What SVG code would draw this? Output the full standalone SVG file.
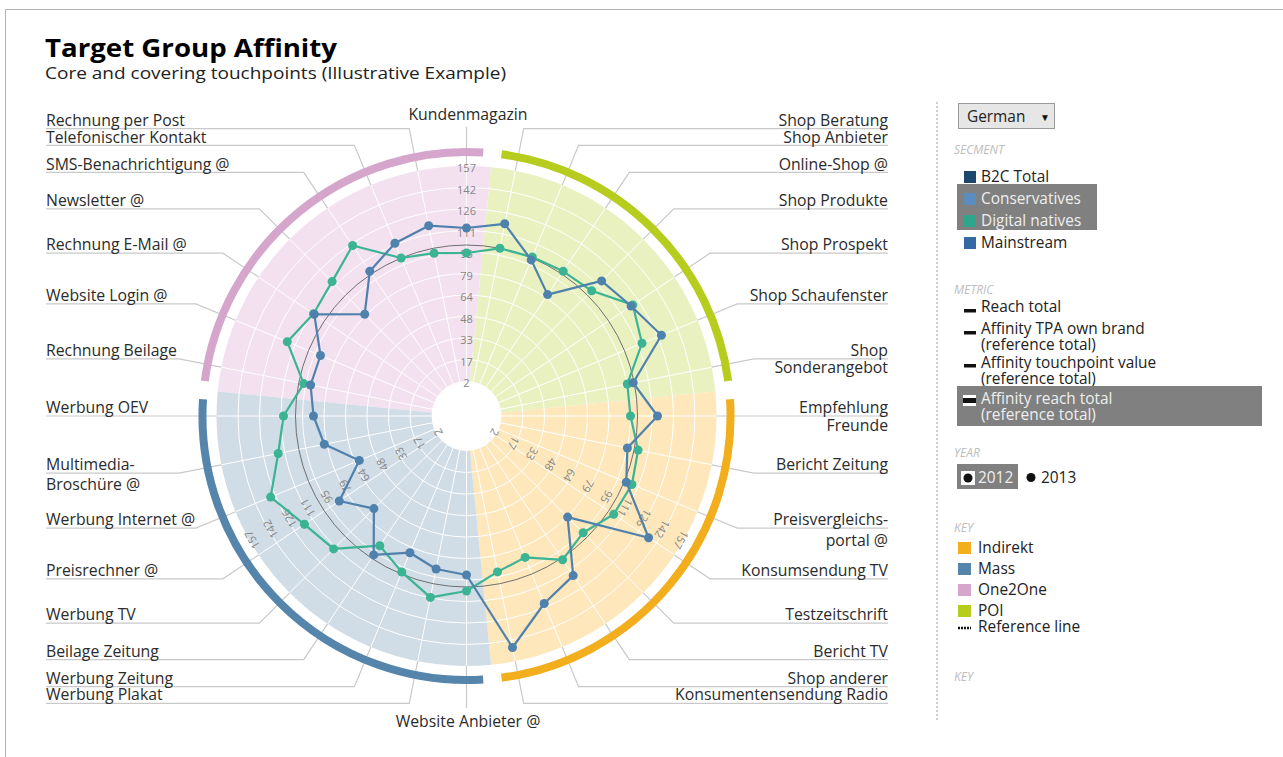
<svg xmlns="http://www.w3.org/2000/svg" width="1283" height="757" viewBox="0 0 1283 757">
<style>
text{font-family:"Open Sans","Liberation Sans",sans-serif;}
.lbl{font-size:15.8px;fill:#2b2b2b;}
.lbl-l{text-anchor:start;}
.lbl-r{text-anchor:end;}
.lbl-c{text-anchor:middle;}
.leader{fill:none;stroke:#c9c9c9;stroke-width:1.2;}
.ring{fill:none;stroke:#ffffff;stroke-width:1;}
.spoke{stroke:#ffffff;stroke-width:1;}
.tick{font-size:11px;fill:#858585;text-anchor:middle;}
.cat-arc{fill:none;stroke-width:8;}
.ser-blue{fill:none;stroke:#4f81ad;stroke-width:2.2;stroke-linejoin:round;}
.ser-teal{fill:none;stroke:#3bb494;stroke-width:2.2;stroke-linejoin:round;}
.dot-blue{fill:#4f81ad;}
.dot-teal{fill:#3bb494;}
.leg{font-size:15.4px;fill:#222;}
.leg-w{font-size:15.4px;fill:#eeeeee;}
.hdr{font-size:12px;fill:#bdbdbd;font-style:italic;}
</style>
<rect x="0" y="0" width="1283" height="757" fill="#ffffff"/>
<path d="M5.5,757 V9.5 H1283" fill="none" stroke="#b3b3b3" stroke-width="1"/>

<g id="title">
<text x="45" y="57" font-size="25" font-weight="bold" fill="#000" textLength="292" lengthAdjust="spacingAndGlyphs">Target Group Affinity</text>
<text x="45" y="79" font-size="16.5" fill="#222" textLength="461" lengthAdjust="spacingAndGlyphs">Core and covering touchpoints (Illustrative Example)</text>
</g>

<g id="sectors">
<path d="M466.5,416 L217.7,391.5 A250,250 0 0 1 491,167.2 Z" fill="#f3e1ef"/>
<path d="M466.5,416 L491,167.2 A250,250 0 0 1 715.3,391.5 Z" fill="#e9f1c1"/>
<path d="M466.5,416 L715.3,391.5 A250,250 0 0 1 491,664.8 Z" fill="#fde7bb"/>
<path d="M466.5,416 L491,664.8 A250,250 0 0 1 217.7,391.5 Z" fill="#d0dce6"/>
</g>

<g id="grid">
<g class="spoke">
<line x1="466.5" y1="381" x2="466.5" y2="166"/>
<line x1="473.3" y1="381.7" x2="515.3" y2="170.8"/>
<line x1="479.9" y1="383.7" x2="562.2" y2="185"/>
<line x1="485.9" y1="386.9" x2="605.4" y2="208.1"/>
<line x1="491.2" y1="391.3" x2="643.3" y2="239.2"/>
<line x1="495.6" y1="396.6" x2="674.4" y2="277.1"/>
<line x1="498.8" y1="402.6" x2="697.5" y2="320.3"/>
<line x1="500.8" y1="409.2" x2="711.7" y2="367.2"/>
<line x1="501.5" y1="416" x2="716.5" y2="416"/>
<line x1="500.8" y1="422.8" x2="711.7" y2="464.8"/>
<line x1="498.8" y1="429.4" x2="697.5" y2="511.7"/>
<line x1="495.6" y1="435.4" x2="674.4" y2="554.9"/>
<line x1="491.2" y1="440.7" x2="643.3" y2="592.8"/>
<line x1="485.9" y1="445.1" x2="605.4" y2="623.9"/>
<line x1="479.9" y1="448.3" x2="562.2" y2="647"/>
<line x1="473.3" y1="450.3" x2="515.3" y2="661.2"/>
<line x1="466.5" y1="451" x2="466.5" y2="666"/>
<line x1="459.7" y1="450.3" x2="417.7" y2="661.2"/>
<line x1="453.1" y1="448.3" x2="370.8" y2="647"/>
<line x1="447.1" y1="445.1" x2="327.6" y2="623.9"/>
<line x1="441.8" y1="440.7" x2="289.7" y2="592.8"/>
<line x1="437.4" y1="435.4" x2="258.6" y2="554.9"/>
<line x1="434.2" y1="429.4" x2="235.5" y2="511.7"/>
<line x1="432.2" y1="422.8" x2="221.3" y2="464.8"/>
<line x1="431.5" y1="416" x2="216.5" y2="416"/>
<line x1="432.2" y1="409.2" x2="221.3" y2="367.2"/>
<line x1="434.2" y1="402.6" x2="235.5" y2="320.3"/>
<line x1="437.4" y1="396.6" x2="258.6" y2="277.1"/>
<line x1="441.8" y1="391.3" x2="289.7" y2="239.2"/>
<line x1="447.1" y1="386.9" x2="327.6" y2="208.1"/>
<line x1="453.1" y1="383.7" x2="370.8" y2="185"/>
<line x1="459.7" y1="381.7" x2="417.7" y2="170.8"/>
</g>
<g class="ring">
<circle cx="466.5" cy="416" r="56.5"/>
<circle cx="466.5" cy="416" r="78"/>
<circle cx="466.5" cy="416" r="99.5"/>
<circle cx="466.5" cy="416" r="121"/>
<circle cx="466.5" cy="416" r="142.5"/>
<circle cx="466.5" cy="416" r="164"/>
<circle cx="466.5" cy="416" r="185.5"/>
<circle cx="466.5" cy="416" r="207"/>
<circle cx="466.5" cy="416" r="228.5"/>
</g>
<circle cx="466.5" cy="416" r="35" fill="#ffffff"/>
</g>

<g id="connectors">
<path class="leader" d="M466.5,166 V127"/>
<path class="leader" d="M515.3,170.8 L523.7,128.6 H888"/>
<path class="leader" d="M562.2,185 L578.6,145.3 H888"/>
<path class="leader" d="M605.4,208.1 L629.3,172.4 H888"/>
<path class="leader" d="M643.3,239.2 L673.7,208.8 H888"/>
<path class="leader" d="M674.4,277.1 L710.1,253.2 H888"/>
<path class="leader" d="M697.5,320.3 L737.2,303.9 H888"/>
<path class="leader" d="M711.7,367.2 L753.9,358.8 H888"/>
<path class="leader" d="M716.5,416 L759.5,416 H888"/>
<path class="leader" d="M711.7,464.8 L753.9,473.2 H888"/>
<path class="leader" d="M697.5,511.7 L737.2,528.1 H888"/>
<path class="leader" d="M674.4,554.9 L710.1,578.8 H888"/>
<path class="leader" d="M643.3,592.8 L673.7,623.2 H888"/>
<path class="leader" d="M605.4,623.9 L629.3,659.6 H888"/>
<path class="leader" d="M562.2,647 L578.6,686.7 H888"/>
<path class="leader" d="M515.3,661.2 L523.7,703.4 H888"/>
<path class="leader" d="M466.5,666 V708"/>
<path class="leader" d="M417.7,661.2 L409.3,703.4 H46"/>
<path class="leader" d="M370.8,647 L354.4,686.7 H46"/>
<path class="leader" d="M327.6,623.9 L303.7,659.6 H46"/>
<path class="leader" d="M289.7,592.8 L259.3,623.2 H46"/>
<path class="leader" d="M258.6,554.9 L222.9,578.8 H46"/>
<path class="leader" d="M235.5,511.7 L195.8,528.1 H46"/>
<path class="leader" d="M221.3,464.8 L179.1,473.2 H46"/>
<path class="leader" d="M216.5,416 L173.5,416 H46"/>
<path class="leader" d="M221.3,367.2 L179.1,358.8 H46"/>
<path class="leader" d="M235.5,320.3 L195.8,303.9 H46"/>
<path class="leader" d="M258.6,277.1 L222.9,253.2 H46"/>
<path class="leader" d="M289.7,239.2 L259.3,208.8 H46"/>
<path class="leader" d="M327.6,208.1 L303.7,172.4 H46"/>
<path class="leader" d="M370.8,185 L354.4,145.3 H46"/>
<path class="leader" d="M417.7,170.8 L409.3,128.6 H46"/>
</g>

<g id="category-arcs">
<path class="cat-arc" stroke="#d5a5cc" d="M204.8,381 A264,264 0 0 1 483.2,152.5"/>
<path class="cat-arc" stroke="#b7cd1e" d="M501.5,154.3 A264,264 0 0 1 728.2,381"/>
<path class="cat-arc" stroke="#f2ae1d" d="M730,399.3 A264,264 0 0 1 501.5,677.7"/>
<path class="cat-arc" stroke="#5585ab" d="M483.2,679.5 A264,264 0 0 1 203,399.3"/>
</g>

<g id="tick-labels" class="tick">
<g transform="translate(466.5,416)">
<text y="-32.5" dy="0.35em">2</text><text y="-54" dy="0.35em">17</text><text y="-75.5" dy="0.35em">33</text><text y="-97" dy="0.35em">48</text><text y="-118.5" dy="0.35em">64</text><text y="-140" dy="0.35em">79</text><text y="-161.5" dy="0.35em">95</text><text y="-183" dy="0.35em">111</text><text y="-204.5" dy="0.35em">126</text><text y="-226" dy="0.35em">142</text><text y="-247.5" dy="0.35em">157</text>
</g>
<g transform="translate(466.5,416) rotate(120)">
<text y="-32.5" dy="0.35em">2</text><text y="-54" dy="0.35em">17</text><text y="-75.5" dy="0.35em">33</text><text y="-97" dy="0.35em">48</text><text y="-118.5" dy="0.35em">64</text><text y="-140" dy="0.35em">79</text><text y="-161.5" dy="0.35em">95</text><text y="-183" dy="0.35em">111</text><text y="-204.5" dy="0.35em">126</text><text y="-226" dy="0.35em">142</text><text y="-247.5" dy="0.35em">157</text>
</g>
<g transform="translate(466.5,416) rotate(240)">
<text y="-32.5" dy="0.35em">2</text><text y="-54" dy="0.35em">17</text><text y="-75.5" dy="0.35em">33</text><text y="-97" dy="0.35em">48</text><text y="-118.5" dy="0.35em">64</text><text y="-140" dy="0.35em">79</text><text y="-161.5" dy="0.35em">95</text><text y="-183" dy="0.35em">111</text><text y="-204.5" dy="0.35em">126</text><text y="-226" dy="0.35em">142</text><text y="-247.5" dy="0.35em">157</text>
</g>
</g>

<circle id="reference-line" cx="466.5" cy="416" r="171" fill="none" stroke="#6f6f6f" stroke-width="1"/>

<g id="series-digital-natives">
<polygon class="ser-teal" points="466.5,253 499.9,248.3 532.3,257.1 563.2,271.3 591.7,290.8 632.8,304.9 642,343.3 627.3,384 630.5,416 638.1,450.1 631.9,484.5 613.7,514.3 583.2,532.7 562.6,559.8 525.1,557.4 497.5,571.9 466.5,591 430.4,597.4 401.8,572.1 379.8,545.7 333.6,548.9 304.4,524.3 270.6,497.1 278.2,453.5 283.5,416 303.7,383.6 287.3,341.8 313.5,313.8 332.1,281.6 352.6,245.5 401.1,258 434.1,253.2"/>
<g class="dot-teal">
<circle cx="466.5" cy="253" r="4.5"/><circle cx="499.9" cy="248.3" r="4.5"/><circle cx="532.3" cy="257.1" r="4.5"/><circle cx="563.2" cy="271.3" r="4.5"/><circle cx="591.7" cy="290.8" r="4.5"/><circle cx="632.8" cy="304.9" r="4.5"/><circle cx="642" cy="343.3" r="4.5"/><circle cx="627.3" cy="384" r="4.5"/><circle cx="630.5" cy="416" r="4.5"/><circle cx="638.1" cy="450.1" r="4.5"/><circle cx="631.9" cy="484.5" r="4.5"/><circle cx="613.7" cy="514.3" r="4.5"/><circle cx="583.2" cy="532.7" r="4.5"/><circle cx="562.6" cy="559.8" r="4.5"/><circle cx="525.1" cy="557.4" r="4.5"/><circle cx="497.5" cy="571.9" r="4.5"/><circle cx="466.5" cy="591" r="4.5"/><circle cx="430.4" cy="597.4" r="4.5"/><circle cx="401.8" cy="572.1" r="4.5"/><circle cx="379.8" cy="545.7" r="4.5"/><circle cx="333.6" cy="548.9" r="4.5"/><circle cx="304.4" cy="524.3" r="4.5"/><circle cx="270.6" cy="497.1" r="4.5"/><circle cx="278.2" cy="453.5" r="4.5"/><circle cx="283.5" cy="416" r="4.5"/><circle cx="303.7" cy="383.6" r="4.5"/><circle cx="287.3" cy="341.8" r="4.5"/><circle cx="313.5" cy="313.8" r="4.5"/><circle cx="332.1" cy="281.6" r="4.5"/><circle cx="352.6" cy="245.5" r="4.5"/><circle cx="401.1" cy="258" r="4.5"/><circle cx="434.1" cy="253.2" r="4.5"/>
</g>
</g>

<g id="series-conservatives">
<polygon class="ser-blue" points="466.5,228 504.7,223.8 531.2,259.9 547.6,294.6 601.6,280.9 631.1,306 661.4,335.3 633.2,382.8 657.5,416 627.4,448 626.3,482.2 648.6,537.7 567.6,517.1 573.2,575.6 544.2,603.5 512.5,647.5 466.5,575 436.1,569 409.9,552.7 373.7,554.9 373.9,508.6 339.3,501 359.3,460.4 324.3,444.3 313.5,416 310.6,385 320.5,355.5 314.3,314.3 364.7,314.2 369.8,271.3 394.9,243.2 428.7,225.7"/>
<g class="dot-blue">
<circle cx="466.5" cy="228" r="4.5"/><circle cx="504.7" cy="223.8" r="4.5"/><circle cx="531.2" cy="259.9" r="4.5"/><circle cx="547.6" cy="294.6" r="4.5"/><circle cx="601.6" cy="280.9" r="4.5"/><circle cx="631.1" cy="306" r="4.5"/><circle cx="661.4" cy="335.3" r="4.5"/><circle cx="633.2" cy="382.8" r="4.5"/><circle cx="657.5" cy="416" r="4.5"/><circle cx="627.4" cy="448" r="4.5"/><circle cx="626.3" cy="482.2" r="4.5"/><circle cx="648.6" cy="537.7" r="4.5"/><circle cx="567.6" cy="517.1" r="4.5"/><circle cx="573.2" cy="575.6" r="4.5"/><circle cx="544.2" cy="603.5" r="4.5"/><circle cx="512.5" cy="647.5" r="4.5"/><circle cx="466.5" cy="575" r="4.5"/><circle cx="436.1" cy="569" r="4.5"/><circle cx="409.9" cy="552.7" r="4.5"/><circle cx="373.7" cy="554.9" r="4.5"/><circle cx="373.9" cy="508.6" r="4.5"/><circle cx="339.3" cy="501" r="4.5"/><circle cx="359.3" cy="460.4" r="4.5"/><circle cx="324.3" cy="444.3" r="4.5"/><circle cx="313.5" cy="416" r="4.5"/><circle cx="310.6" cy="385" r="4.5"/><circle cx="320.5" cy="355.5" r="4.5"/><circle cx="314.3" cy="314.3" r="4.5"/><circle cx="364.7" cy="314.2" r="4.5"/><circle cx="369.8" cy="271.3" r="4.5"/><circle cx="394.9" cy="243.2" r="4.5"/><circle cx="428.7" cy="225.7" r="4.5"/>
</g>
</g>

<g id="axis-labels" class="lbl">
<g id="node-kundenmagazin"><text class="lbl-c" x="468" y="120">Kundenmagazin</text></g>
<g id="node-shop-beratung"><text class="lbl-r" x="888" y="125.5">Shop Beratung</text></g>
<g id="node-shop-anbieter"><text class="lbl-r" x="888" y="142.5">Shop Anbieter</text></g>
<g id="node-online-shop"><text class="lbl-r" x="888" y="169.5">Online-Shop @</text></g>
<g id="node-shop-produkte"><text class="lbl-r" x="888" y="206">Shop Produkte</text></g>
<g id="node-shop-prospekt"><text class="lbl-r" x="888" y="250">Shop Prospekt</text></g>
<g id="node-shop-schaufenster"><text class="lbl-r" x="888" y="301">Shop Schaufenster</text></g>
<g id="node-shop-sonderangebot"><text class="lbl-r" x="888" y="355.5">Shop</text><text class="lbl-r" x="888" y="373">Sonderangebot</text></g>
<g id="node-empfehlung-freunde"><text class="lbl-r" x="888" y="413">Empfehlung</text><text class="lbl-r" x="888" y="431">Freunde</text></g>
<g id="node-bericht-zeitung"><text class="lbl-r" x="888" y="470">Bericht Zeitung</text></g>
<g id="node-preisvergleichsportal"><text class="lbl-r" x="888" y="525">Preisvergleichs-</text><text class="lbl-r" x="888" y="546">portal @</text></g>
<g id="node-konsumsendung-tv"><text class="lbl-r" x="888" y="576">Konsumsendung TV</text></g>
<g id="node-testzeitschrift"><text class="lbl-r" x="888" y="620">Testzeitschrift</text></g>
<g id="node-bericht-tv"><text class="lbl-r" x="888" y="656.5">Bericht TV</text></g>
<g id="node-shop-anderer"><text class="lbl-r" x="888" y="683.5">Shop anderer</text></g>
<g id="node-konsumentensendung-radio"><text class="lbl-r" x="888" y="700">Konsumentensendung Radio</text></g>
<g id="node-website-anbieter"><text class="lbl-c" x="468" y="727">Website Anbieter @</text></g>
<g id="node-werbung-plakat"><text class="lbl-l" x="46" y="700">Werbung Plakat</text></g>
<g id="node-werbung-zeitung"><text class="lbl-l" x="46" y="683.5">Werbung Zeitung</text></g>
<g id="node-beilage-zeitung"><text class="lbl-l" x="46" y="656.5">Beilage Zeitung</text></g>
<g id="node-werbung-tv"><text class="lbl-l" x="46" y="620">Werbung TV</text></g>
<g id="node-preisrechner"><text class="lbl-l" x="46" y="576">Preisrechner @</text></g>
<g id="node-werbung-internet"><text class="lbl-l" x="46" y="525">Werbung Internet @</text></g>
<g id="node-multimedia-broschuere"><text class="lbl-l" x="46" y="470">Multimedia-</text><text class="lbl-l" x="46" y="489.5">Broschüre @</text></g>
<g id="node-werbung-oev"><text class="lbl-l" x="46" y="413">Werbung OEV</text></g>
<g id="node-rechnung-beilage"><text class="lbl-l" x="46" y="355.5">Rechnung Beilage</text></g>
<g id="node-website-login"><text class="lbl-l" x="46" y="301">Website Login @</text></g>
<g id="node-rechnung-email"><text class="lbl-l" x="46" y="250">Rechnung E-Mail @</text></g>
<g id="node-newsletter"><text class="lbl-l" x="46" y="206">Newsletter @</text></g>
<g id="node-sms"><text class="lbl-l" x="46" y="169.5">SMS-Benachrichtigung @</text></g>
<g id="node-telefonischer-kontakt"><text class="lbl-l" x="46" y="142.5">Telefonischer Kontakt</text></g>
<g id="node-rechnung-per-post"><text class="lbl-l" x="46" y="125.5">Rechnung per Post</text></g>
</g>

<line id="separator" x1="937" y1="102" x2="937" y2="722" stroke="#bdbdbd" stroke-width="1.5" stroke-dasharray="2,2"/>

<g id="legend">
<g id="language-select">
<rect x="958.5" y="103.5" width="96" height="25" fill="#e6e6e6" stroke="#9a9a9a" stroke-width="1"/>
<text class="leg" x="967" y="122">German</text>
<text x="1040" y="121" font-size="10" fill="#111">▼</text>
</g>
<g id="legend-segment">
<text class="hdr" x="954" y="154">SECMENT</text>
<rect x="964" y="171" width="12" height="12" fill="#1c466b"/>
<text class="leg" x="981" y="182">B2C Total</text>
<rect x="957" y="184" width="140" height="46" fill="#808080"/>
<rect x="964" y="193" width="12" height="12" fill="#5a8dbd"/>
<text class="leg-w" x="981" y="204">Conservatives</text>
<rect x="964" y="215" width="12" height="12" fill="#2fa58b"/>
<text class="leg-w" x="981" y="226">Digital natives</text>
<rect x="964" y="237" width="12" height="12" fill="#3669a3"/>
<text class="leg" x="981" y="248">Mainstream</text>
</g>
<g id="legend-metric">
<text class="hdr" x="954" y="294">METRIC</text>
<rect x="964" y="309" width="12" height="3.5" fill="#111"/>
<text class="leg" x="981" y="312">Reach total</text>
<rect x="964" y="331" width="12" height="3.5" fill="#111"/>
<text class="leg" x="981" y="334">Affinity TPA own brand</text>
<text class="leg" x="981" y="350">(reference total)</text>
<rect x="964" y="364" width="12" height="3.5" fill="#111"/>
<text class="leg" x="981" y="368">Affinity touchpoint value</text>
<text class="leg" x="981" y="384">(reference total)</text>
<rect x="957" y="386" width="305" height="40" fill="#808080"/>
<rect x="963" y="395" width="13" height="11" fill="#ffffff"/>
<rect x="963" y="398" width="13" height="5" fill="#111"/>
<text class="leg-w" x="981" y="404">Affinity reach total</text>
<text class="leg-w" x="981" y="420">(reference total)</text>
</g>
<g id="legend-year">
<text class="hdr" x="954" y="457">YEAR</text>
<rect x="957" y="464" width="61" height="25" fill="#808080"/>
<rect x="961" y="471" width="14" height="14" fill="#ffffff"/>
<circle cx="968" cy="478" r="4.5" fill="#111"/>
<text class="leg-w" x="978" y="483">2012</text>
<circle cx="1031" cy="477.5" r="4.5" fill="#111"/>
<text class="leg" x="1041" y="483">2013</text>
</g>
<g id="legend-key">
<text class="hdr" x="954" y="532">KEY</text>
<rect x="958" y="542" width="13" height="12" fill="#f2ae1d"/>
<text class="leg" x="978" y="553">Indirekt</text>
<rect x="958" y="563" width="13" height="12" fill="#5585ab"/>
<text class="leg" x="978" y="574">Mass</text>
<rect x="958" y="584" width="13" height="12" fill="#d5a5cc"/>
<text class="leg" x="978" y="595">One2One</text>
<rect x="958" y="605" width="13" height="12" fill="#b7cd1e"/>
<text class="leg" x="978" y="616">POI</text>
<line x1="958" y1="628" x2="971" y2="628" stroke="#111" stroke-width="2.5" stroke-dasharray="2,1"/>
<text class="leg" x="978" y="632">Reference line</text>
<text class="hdr" x="954" y="681">KEY</text>
</g>
</g>
</svg>
